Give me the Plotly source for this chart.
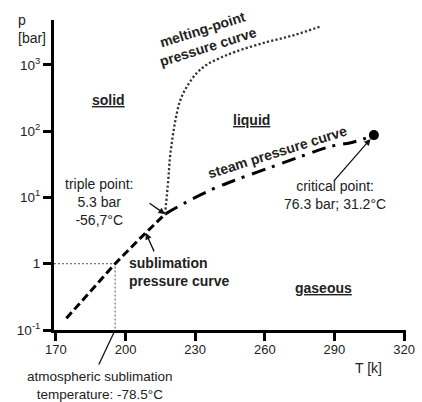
import numpy as np
import plotly.graph_objects as go

# ---- data ----
triple_T, triple_p = 217.0, 5.6
critical_T, critical_p = 307.0, 87.0
atm_T, atm_p = 195.5, 1.0

subl_T = [174.5, 185.0, 195.5, 206.0, triple_T]
subl_p = [0.15, 0.38, 1.0, 2.36, triple_p]

steam_T = [triple_T, 227.0, 237.7, 247.4, 263.4, 277.3, 288.2, 297.9, critical_T]
steam_p = [triple_p, 8.8, 13.4, 18.3, 29.2, 43.6, 58.6, 68.0, critical_p]

melt_T = [triple_T, 218.4, 219.1, 220.1, 221.5, 223.6, 226.4, 230.6, 234.8, 240.4, 247.4, 260.9, 272.7, 284.5]
melt_p = [triple_p, 18.2, 38.9, 73.5, 147, 294, 468, 745, 993, 1253, 1578, 2208, 2812, 3846]

x_ticks = [170, 200, 230, 260, 290, 320]
y_ticks = [0.1, 1, 10, 100, 1000]
y_ticktext = ["10<sup>-1</sup>", "1", "10<sup>1</sup>", "10<sup>2</sup>", "10<sup>3</sup>"]

x_range = [169.16, 320.84]
y_range_log = [-1.0, 3.676]

# ---- layout geometry ----
W, H = 422, 402
ML, MR, MT, MB = 54, 7, 20, 72
PW, PH = W - ML - MR, H - MT - MB

def px(xp):
    return (xp - ML) / PW

def py(yp):
    return (H - MB - yp) / PH

FONT = "Liberation Sans, Arial, sans-serif"
TXT = "#222222"

fig = go.Figure()

# guide lines for 1 bar
fig.add_trace(go.Scatter(
    x=[x_range[0], atm_T, atm_T], y=[atm_p, atm_p, 10 ** y_range_log[0]],
    mode="lines", line=dict(color="#7a7a7a", width=1.3, dash="2px,2px"),
    hoverinfo="skip", showlegend=False))

# sublimation curve
fig.add_trace(go.Scatter(
    x=subl_T, y=subl_p, mode="lines", line=dict(color="black", width=3, dash="8px,4px"),
    showlegend=False))

# steam pressure curve
fig.add_trace(go.Scatter(
    x=steam_T, y=steam_p, mode="lines", line_shape="spline",
    line=dict(color="black", width=3, dash="14px,7px,3px,8px"),
    showlegend=False))

# melting point curve
fig.add_trace(go.Scatter(
    x=melt_T, y=melt_p, mode="lines", line_shape="spline",
    line=dict(color="#333333", width=2.3, dash="2.2px,2.2px"),
    showlegend=False))

# critical point
fig.add_trace(go.Scatter(
    x=[critical_T], y=[critical_p], mode="markers",
    marker=dict(color="black", size=10), showlegend=False))

# point on sublimation curve for arrow
arrow_T = 208.7
arrow_p = 10 ** np.interp(arrow_T, subl_T, np.log10(subl_p))

ann = []

def text(xp, yp, s, size=14, angle=0, xanchor="center", yanchor="middle", align="center"):
    ann.append(dict(x=px(xp), y=py(yp), xref="paper", yref="paper", text=s,
                    showarrow=False, textangle=angle, xanchor=xanchor, yanchor=yanchor,
                    align=align, font=dict(family=FONT, size=size, color=TXT)))

def arrow(xd, yd, ax, ay, head=2, standoff=0):
    ann.append(dict(x=xd, y=np.log10(yd), xref="x", yref="y", text="", showarrow=True,
                    ax=ax, ay=ay, arrowhead=head, arrowsize=1, arrowwidth=1.3,
                    arrowcolor="#111111", standoff=standoff))

text(15, 10, "p<br>[bar]", size=14, xanchor="left", yanchor="top", align="left")
text(377, 368, "T [k]", size=14)
text(110, 100, "<b><u>solid</u></b>")
text(257, 120, "<b><u>liquid</u></b>")
text(330, 288, "<b><u>gaseous</u></b>")
text(100, 202, "triple point:<br>5.3 bar<br>-56,7°C")
text(129, 272, "<b>sublimation<br>pressure curve</b>", xanchor="left", align="left")
text(342, 195, "critical point:<br>76.3 bar; 31.2°C")
text(101, 385, "atmospheric sublimation<br>temperature: -78.5°C", size=13.5)
text(209, 38, "<b>melting-point<br>pressure curve</b>", angle=-17.5)
text(283, 152, "<b>steam pressure curve</b>", angle=-17.5)

arrow(triple_T, triple_p, -17, -12)
arrow(arrow_T, arrow_p, 9, 20)
arrow(critical_T, critical_p, -41, 47, standoff=5)
arrow(atm_T, 10 ** y_range_log[0], -17, 36, head=0)

fig.update_layout(
    width=W, height=H,
    margin=dict(l=ML, r=MR, t=MT, b=MB, pad=0),
    plot_bgcolor="white", paper_bgcolor="white",
    font=dict(family=FONT, size=13.5, color=TXT),
    annotations=ann,
    showlegend=False,
)
fig.update_xaxes(range=x_range, tickvals=x_ticks, ticks="outside", ticklen=8, tickwidth=2.5,
                 tickcolor="black", showline=True, linewidth=3, linecolor="black",
                 showgrid=False, zeroline=False, tickfont=dict(size=13, color=TXT),
                 ticklabeloverflow="allow", ticklabelstandoff=-3)
fig.update_yaxes(type="log", range=y_range_log, tickvals=y_ticks, ticktext=y_ticktext,
                 ticks="outside", ticklen=8, tickwidth=2.5, tickcolor="black",
                 showline=True, linewidth=3, linecolor="black", showgrid=False,
                 zeroline=False, tickfont=dict(size=13.5, color=TXT))

fig.write_html("out.html")
